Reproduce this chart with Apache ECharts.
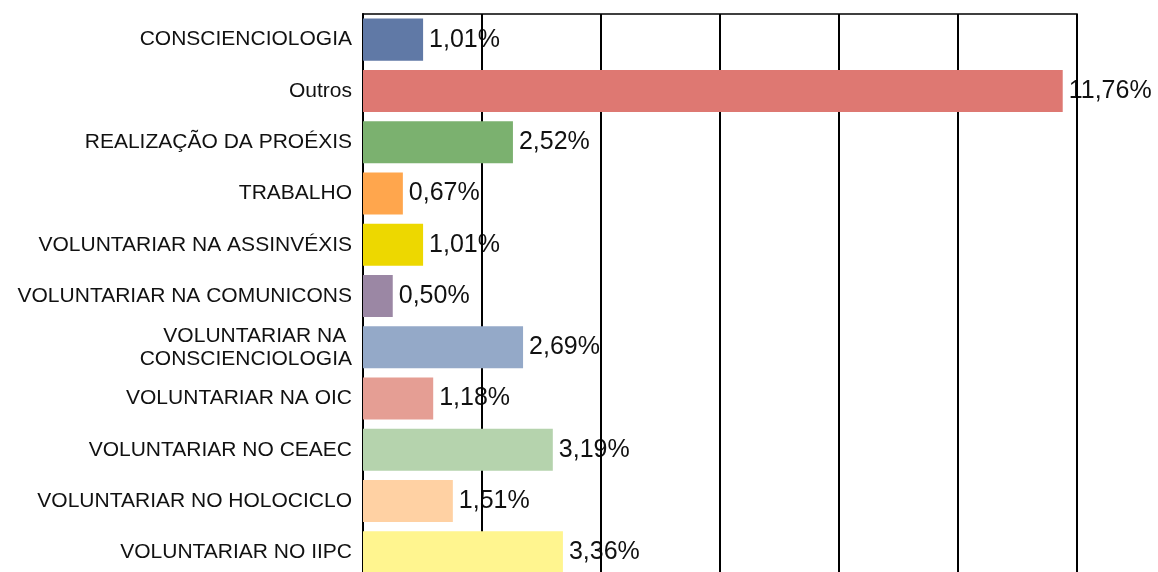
<!DOCTYPE html>
<html>
<head>
<meta charset="utf-8">
<script src="https://cdn.jsdelivr.net/npm/echarts@6/dist/echarts.min.js"></script>
<style>
html,body{margin:0;padding:0;background:#fff;overflow:hidden;}
#chart{width:1158px;height:572px;}
</style>
</head>
<body>
<div id="chart"></div>
<script>
const categories = [
  'CONSCIENCIOLOGIA',
  'Outros',
  'REALIZAÇÃO DA PROÉXIS',
  'TRABALHO',
  'VOLUNTARIAR NA ASSINVÉXIS',
  'VOLUNTARIAR NA COMUNICONS',
  'VOLUNTARIAR NA \nCONSCIENCIOLOGIA',
  'VOLUNTARIAR NA OIC',
  'VOLUNTARIAR NO CEAEC',
  'VOLUNTARIAR NO HOLOCICLO',
  'VOLUNTARIAR NO IIPC'
];
const values = [1.01, 11.76, 2.52, 0.67, 1.01, 0.50, 2.69, 1.18, 3.19, 1.51, 3.36];
const colors = ['#6079A6', '#DE7872', '#7BB16F', '#FFA64D', '#EDD800', '#9B87A4',
                '#94A9C8', '#E59E94', '#B5D3AD', '#FFD1A3', '#FFF58F'];
const axisMin = 0, axisMax = 12, axisStep = 2;

const fontFam = "'Liberation Sans', Arial, sans-serif";
const chart = echarts.init(document.getElementById('chart'));
chart.setOption({
  animation: false,
  backgroundColor: '#fff',
  grid: {
    left: 363, width: 714, top: 14, height: 564,
    outerBoundsMode: 'none', containLabel: false,
    show: true, borderColor: '#000', borderWidth: 1.5, backgroundColor: 'transparent'
  },
  xAxis: {
    type: 'value', min: axisMin, max: axisMax, interval: axisStep, z: 1,
    axisLabel: { show: false },
    axisLine: { show: false },
    axisTick: { show: false },
    splitLine: { show: true, lineStyle: { color: '#000', width: 2 } }
  },
  yAxis: {
    type: 'category', data: categories, inverse: true,
    axisLine: { show: true, lineStyle: { color: '#000', width: 2 } },
    axisTick: { show: false },
    axisLabel: {
      color: '#111', fontFamily: fontFam, fontSize: 21, lineHeight: 23,
      margin: 11, align: 'right'
    }
  },
  series: [
    {
      type: 'bar', z: 0, barCategoryGap: '18%',
      data: values,
      itemStyle: { color: 'rgba(0,0,0,0)' },
      label: {
        show: true, position: 'right', distance: 6,
        color: '#111', fontFamily: fontFam, fontSize: 25,
        formatter: p => p.value.toFixed(2).replace('.', ',') + '%'
      }
    },
    {
      type: 'bar', z: 2, barCategoryGap: '18%', barGap: '-100%',
      data: values.map((v, i) => ({ value: v, itemStyle: { color: colors[i] } })),
      label: { show: false }
    }
  ]
});
</script>
</body>
</html>
